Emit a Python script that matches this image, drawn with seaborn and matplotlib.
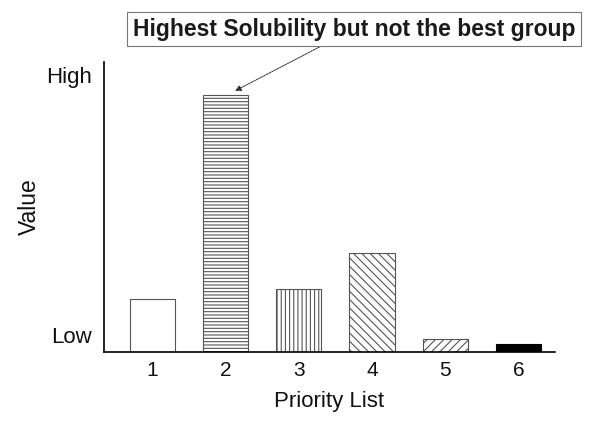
import matplotlib
matplotlib.use("Agg")
import matplotlib.pyplot as plt
import seaborn as sns

# data
groups = ["1", "2", "3", "4", "5", "6"]
values = [53, 257, 63, 99, 13, 8]
hatches = ["", "-----", "||||", "\\\\\\\\", "////", ""]
fills = ["white", "white", "white", "white", "white", "black"]
ytick_vals = [17, 277]
ytick_labels = ["Low", "High"]

sns.set_theme(style="white")
plt.rcParams["font.family"] = ["Liberation Sans", "DejaVu Sans"]
plt.rcParams["hatch.linewidth"] = 0.8

fig = plt.figure(figsize=(6.08, 4.21), dpi=100)
ax = fig.add_axes([0.171, 0.164, 0.742, 0.689])

sns.barplot(x=groups, y=values, color="white", width=0.62, ax=ax)
for patch, h, fc in zip(ax.patches, hatches, fills):
    patch.set_facecolor(fc)
    patch.set_hatch(h)
    patch.set_edgecolor("#555555" if fc == "white" else "black")
    patch.set_linewidth(0.8)

ax.set_xlim(-0.66, 5.5)
ax.set_ylim(0, 290)
ax.set_yticks(ytick_vals)
ax.set_yticklabels(ytick_labels, fontsize=16)
ax.tick_params(axis="x", labelsize=15, length=0, pad=6.5, labelcolor="#111111")
ax.tick_params(axis="y", length=0, pad=8.5, labelcolor="#111111")
ax.set_xlabel("Priority List", fontsize=16, labelpad=8, color="#111111")
ax.set_ylabel("Value", fontsize=16.5, labelpad=4, color="#111111")

sns.despine(ax=ax)
for side in ["left", "bottom"]:
    ax.spines[side].set_color("black")
    ax.spines[side].set_linewidth(1.2)

ax.annotate("Highest Solubility but not the best group",
            xy=(1.13, 261), xycoords="data",
            xytext=(0.582, 0.931), textcoords="figure fraction",
            ha="center", va="center", fontsize=16.5, fontweight="bold",
            color="#1a1a1a",
            bbox=dict(boxstyle="square,pad=0.25", fc="white", ec="#777777", lw=0.8),
            arrowprops=dict(arrowstyle="-|>", color="#333333", lw=0.7,
                            linestyle=(0, (2, 1)), mutation_scale=9,
                            relpos=(0.45, 0), shrinkA=0, shrinkB=0))

fig.savefig("out.png", dpi=100)
